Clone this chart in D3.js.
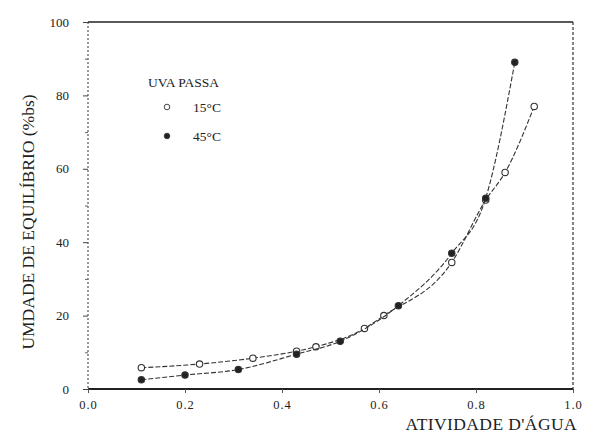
<!DOCTYPE html>
<html>
<head>
<meta charset="utf-8">
<script src="https://cdn.jsdelivr.net/npm/d3@7"></script>
<style>
body { margin: 0; background: #fff; }
svg text { font-family: "Liberation Serif", "DejaVu Serif", serif; fill: #222; }
</style>
</head>
<body>
<div id="chart"></div>
<script>
// data
var aw15 = [0.11, 0.23, 0.34, 0.43, 0.47, 0.57, 0.61, 0.75, 0.82, 0.86, 0.92];
var ue15 = [5.8, 6.8, 8.4, 10.3, 11.5, 16.5, 20, 34.5, 51.5, 59, 77];
var aw45 = [0.11, 0.20, 0.31, 0.43, 0.52, 0.64, 0.75, 0.82, 0.88];
var ue45 = [2.5, 3.8, 5.3, 9.5, 13, 22.7, 37, 52, 89];
var xTicks = [0, 0.2, 0.4, 0.6, 0.8, 1.0];
var yTicks = [0, 20, 40, 60, 80, 100];

var width = 591, height = 433;
var margin = { top: 22, right: 18, bottom: 44, left: 88 };
var w = width - margin.left - margin.right;
var h = height - margin.top - margin.bottom;

var svg = d3.select("#chart").append("svg")
	.attr("width", width)
	.attr("height", height);

var g = svg.append("g")
	.attr("transform", "translate(" + margin.left + "," + margin.top + ")");

//Scales
var x = d3.scaleLinear().domain([0, 1]).range([0, w]);
var y = d3.scaleLinear().domain([0, 100]).range([h, 0]);

//frame: solid top and bottom, dotted sides
g.append("line").attr("x1", 0).attr("x2", w).attr("y1", 0).attr("y2", 0)
	.attr("stroke", "#222").attr("stroke-width", 1.5);
g.append("line").attr("x1", 0).attr("x2", w).attr("y1", h).attr("y2", h)
	.attr("stroke", "#222").attr("stroke-width", 2);
g.append("line").attr("x1", 0).attr("x2", 0).attr("y1", 0).attr("y2", h)
	.attr("stroke", "#333").attr("stroke-width", 1).attr("stroke-dasharray", "2,2");
g.append("line").attr("x1", w).attr("x2", w).attr("y1", 0).attr("y2", h)
	.attr("stroke", "#333").attr("stroke-width", 1.2).attr("stroke-dasharray", "3,2");

//x axis
var xAxis = g.append("g")
	.attr("transform", "translate(0," + h + ")")
	.call(d3.axisBottom(x).tickValues(xTicks).tickSize(4).tickPadding(7).tickFormat(d3.format(".1f")));
xAxis.select(".domain").remove();
xAxis.selectAll("line").attr("stroke", "#555");
xAxis.selectAll("text").attr("font-size", 12.5).attr("fill", "#444").attr("letter-spacing", 1);

//y axis
var yAxis = g.append("g")
	.call(d3.axisLeft(y).tickValues(yTicks).tickSize(5).tickPadding(14));
yAxis.select(".domain").remove();
yAxis.selectAll("line").attr("stroke", "#444");
yAxis.selectAll("text").attr("font-size", 13).attr("fill", "#444");

//minor y ticks
g.append("g")
	.call(d3.axisLeft(y).tickValues(d3.range(10, 100, 20)).tickSize(3).tickFormat(""))
	.call(function(a) { a.select(".domain").remove(); a.selectAll("line").attr("stroke", "#666"); });

//axis titles
svg.append("text")
	.attr("transform", "translate(34," + (margin.top + 200) + ") rotate(-90)")
	.attr("text-anchor", "middle")
	.attr("font-size", 17.5)
	.text("UMDADE DE EQUILÍBRIO (%bs)");

svg.append("text")
	.attr("x", 577)
	.attr("y", 430)
	.attr("text-anchor", "end")
	.attr("font-size", 17.5)
	.attr("letter-spacing", 0.4)
	.text("ATIVIDADE D'ÁGUA");

//series
var series = [
	{ aw: aw15, ue: ue15, filled: false },
	{ aw: aw45, ue: ue45, filled: true }
];

var line = d3.line()
	.x(function(d) { return x(d[0]); })
	.y(function(d) { return y(d[1]); })
	.curve(d3.curveMonotoneX);

series.forEach(function(s) {
	var pts = s.aw.map(function(a, i) { return [a, s.ue[i]]; });
	g.append("path")
		.datum(pts)
		.attr("fill", "none")
		.attr("stroke", "#333")
		.attr("stroke-width", 1.1)
		.attr("stroke-dasharray", "5,2")
		.attr("d", line);
	g.selectAll(null)
		.data(pts)
		.enter()
		.append("circle")
		.attr("cx", function(d) { return x(d[0]); })
		.attr("cy", function(d) { return y(d[1]); })
		.attr("r", 3.2)
		.attr("fill", s.filled ? "#222" : "#fff")
		.attr("stroke", "#333")
		.attr("stroke-width", 1.1);
});

//legend
var legend = svg.append("g");
legend.append("text").attr("x", 148).attr("y", 87).attr("font-size", 13.5).text("UVA PASSA");
var legendItems = [{ label: "15°C", filled: false }, { label: "45°C", filled: true }];
legend.selectAll(".item")
	.data(legendItems)
	.enter()
	.append("g")
	.attr("class", "item")
	.attr("transform", function(d, i) { return "translate(167," + (107 + i * 29) + ")"; })
	.each(function(d) {
		var it = d3.select(this);
		it.append("circle").attr("r", 2.8)
			.attr("fill", d.filled ? "#222" : "#fff")
			.attr("stroke", "#444").attr("stroke-width", 1);
		it.append("text").attr("x", 26).attr("y", 5).attr("font-size", 13.5).attr("fill", "#555").text(d.label);
	});
</script>
</body>
</html>
